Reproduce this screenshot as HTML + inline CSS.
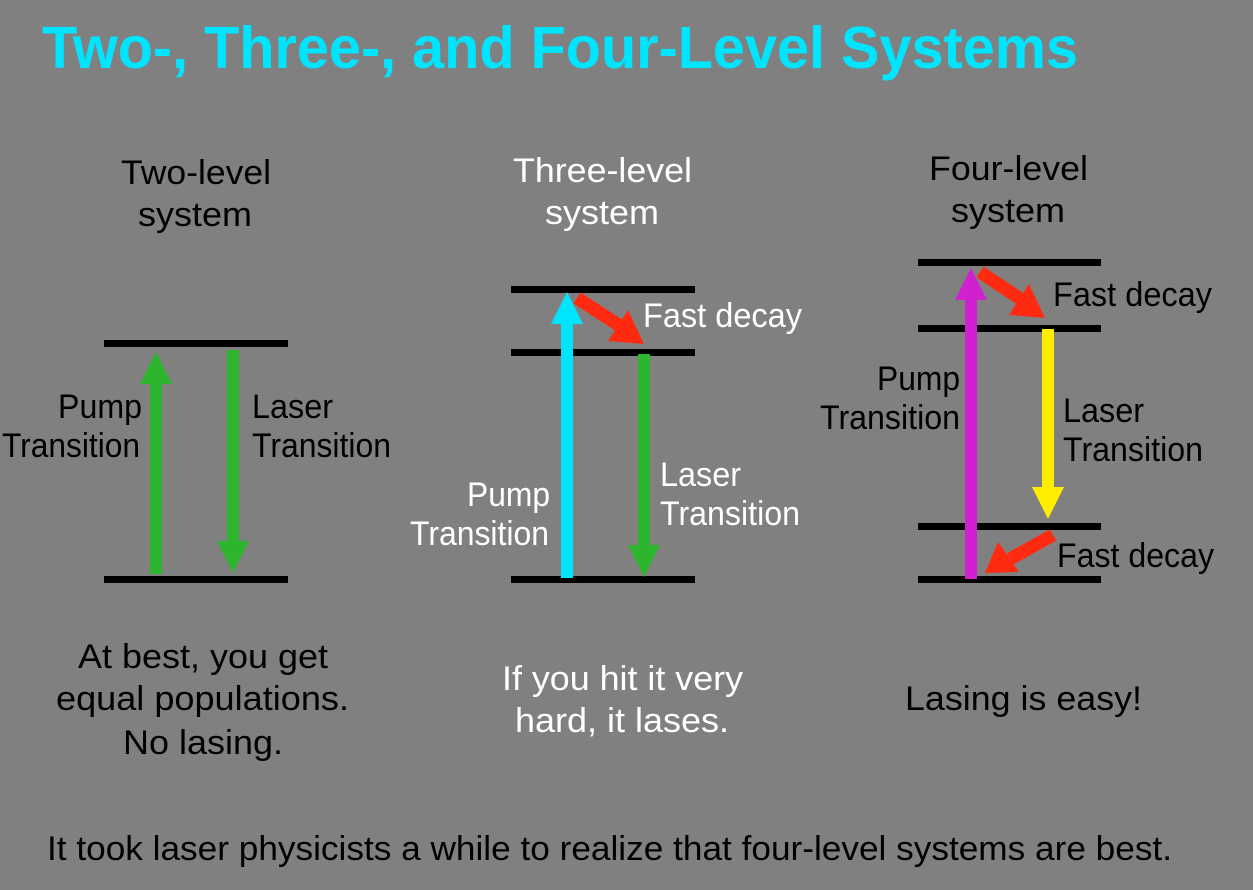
<!DOCTYPE html>
<html><head><meta charset="utf-8"><style>
html,body{margin:0;padding:0;background:#808080;}
svg{display:block;}
text{font-family:"Liberation Sans",sans-serif;}
</style></head><body>
<svg width="1253" height="890" viewBox="0 0 1253 890" xmlns="http://www.w3.org/2000/svg">
<rect width="1253" height="890" fill="#808080"/>
<text x="42" y="68" font-size="59" font-weight="bold" fill="#00e5ff" textLength="1036" lengthAdjust="spacingAndGlyphs">Two-, Three-, and Four-Level Systems</text>

<g fill="#000" font-size="34">
<text x="121" y="184" textLength="150" lengthAdjust="spacingAndGlyphs">Two-level</text>
<text x="138" y="226" textLength="114" lengthAdjust="spacingAndGlyphs">system</text>
<text x="929" y="180" textLength="159" lengthAdjust="spacingAndGlyphs">Four-level</text>
<text x="951" y="222" textLength="114" lengthAdjust="spacingAndGlyphs">system</text>
<text x="58" y="418" textLength="84" lengthAdjust="spacingAndGlyphs">Pump</text>
<text x="2" y="457" textLength="138" lengthAdjust="spacingAndGlyphs">Transition</text>
<text x="252" y="418" textLength="81" lengthAdjust="spacingAndGlyphs">Laser</text>
<text x="252" y="457" textLength="139" lengthAdjust="spacingAndGlyphs">Transition</text>
<text x="877" y="390" textLength="83" lengthAdjust="spacingAndGlyphs">Pump</text>
<text x="820" y="429" textLength="140" lengthAdjust="spacingAndGlyphs">Transition</text>
<text x="1063" y="422" textLength="81" lengthAdjust="spacingAndGlyphs">Laser</text>
<text x="1063" y="461" textLength="140" lengthAdjust="spacingAndGlyphs">Transition</text>
<text x="1053" y="306" textLength="159" lengthAdjust="spacingAndGlyphs">Fast decay</text>
<text x="1057" y="567" textLength="157" lengthAdjust="spacingAndGlyphs">Fast decay</text>
<text x="78" y="668" textLength="250" lengthAdjust="spacingAndGlyphs">At best, you get</text>
<text x="56" y="710" textLength="293" lengthAdjust="spacingAndGlyphs">equal populations.</text>
<text x="123" y="754" textLength="160" lengthAdjust="spacingAndGlyphs">No lasing.</text>
<text x="905" y="710" textLength="237" lengthAdjust="spacingAndGlyphs">Lasing is easy!</text>
<text x="47" y="860" textLength="1125" lengthAdjust="spacingAndGlyphs">It took laser physicists a while to realize that four-level systems are best.</text>
</g>
<g fill="#fff" font-size="34">
<text x="513" y="182" textLength="179" lengthAdjust="spacingAndGlyphs">Three-level</text>
<text x="545" y="224" textLength="114" lengthAdjust="spacingAndGlyphs">system</text>
<text x="467" y="506" textLength="83" lengthAdjust="spacingAndGlyphs">Pump</text>
<text x="410" y="545" textLength="139" lengthAdjust="spacingAndGlyphs">Transition</text>
<text x="660" y="486" textLength="81" lengthAdjust="spacingAndGlyphs">Laser</text>
<text x="660" y="525" textLength="140" lengthAdjust="spacingAndGlyphs">Transition</text>
<text x="643" y="327" textLength="159" lengthAdjust="spacingAndGlyphs">Fast decay</text>
<text x="502" y="690" textLength="241" lengthAdjust="spacingAndGlyphs">If you hit it very</text>
<text x="515" y="732" textLength="214" lengthAdjust="spacingAndGlyphs">hard, it lases.</text>
</g>

<g fill="#000">
<rect x="104" y="340" width="184" height="7"/>
<rect x="104" y="576" width="184" height="7"/>
<rect x="511" y="286" width="184" height="7"/>
<rect x="511" y="349" width="184" height="7"/>
<rect x="511" y="576" width="184" height="7"/>
<rect x="918" y="259" width="183" height="7"/>
<rect x="918" y="325" width="183" height="7"/>
<rect x="918" y="523" width="183" height="7"/>
<rect x="918" y="576" width="183" height="7"/>
</g>

<g fill="#2db52d">
<rect x="150" y="382" width="12" height="192"/>
<polygon points="156,352 172,384 140,384"/>
<rect x="227" y="350" width="12" height="192"/>
<polygon points="233,573 217,541 249,541"/>
</g>

<rect x="561" y="322" width="12" height="256" fill="#00e5ff"/>
<polygon points="567,292 583,324 551,324" fill="#00e5ff"/>
<rect x="638" y="354" width="12" height="192" fill="#2db52d"/>
<polygon points="644,577 628,545 660,545" fill="#2db52d"/>
<line x1="577" y1="298" x2="620" y2="326" stroke="#ff2a10" stroke-width="13"/>
<polygon points="644,344 608,341 628,310" fill="#ff2a10"/>

<rect x="965" y="296" width="12" height="283" fill="#d020d0"/>
<polygon points="971,268 987,300 955,300" fill="#d020d0"/>
<rect x="1042" y="329" width="12" height="160" fill="#ffee00"/>
<polygon points="1048,519 1032,487 1064,487" fill="#ffee00"/>
<line x1="980" y1="272" x2="1022" y2="300" stroke="#ff2a10" stroke-width="13"/>
<polygon points="1045,318 1009,315 1029,284" fill="#ff2a10"/>
<line x1="1053" y1="535" x2="1010" y2="559" stroke="#ff2a10" stroke-width="13"/>
<polygon points="985,573 998,542 1019,572" fill="#ff2a10"/>
</svg>
</body></html>
